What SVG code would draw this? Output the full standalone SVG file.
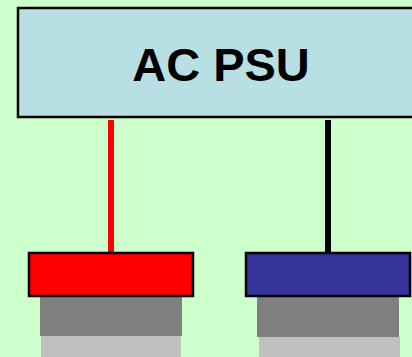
<svg xmlns="http://www.w3.org/2000/svg" width="412" height="357" viewBox="0 0 412 357">
  <style>
    .frame { stroke: #000; stroke-width: 2.5; }
    .base { fill: #808080; }
    .foot { fill: #c0c0c0; }
    .label { font-family: "Liberation Sans", Arial, sans-serif; font-weight: bold; font-size: 47px; fill: #000; }
  </style>
  <rect width="412" height="357" fill="#ccffcc"/>
  <g id="connectors">
    <line x1="111" y1="120" x2="111" y2="253" stroke="#ff0000" stroke-width="6"/>
    <line x1="328" y1="120" x2="328" y2="253" stroke="#000" stroke-width="6"/>
  </g>
  <g id="psu">
    <rect class="frame" x="18" y="8" width="400" height="109" fill="#b8e0e4"/>
    <text class="label" x="221" y="81" text-anchor="middle">AC PSU</text>
  </g>
  <g id="terminal-positive">
    <rect class="base" x="40" y="297" width="142" height="39"/>
    <rect class="foot" x="41" y="336" width="140" height="21"/>
    <rect class="frame" x="29" y="253" width="164" height="43" fill="#ff0000"/>
  </g>
  <g id="terminal-negative">
    <rect class="base" x="257" y="297" width="142" height="40"/>
    <rect class="foot" x="259" y="337" width="141" height="20"/>
    <rect class="frame" x="246" y="253" width="164" height="43" fill="#333399"/>
  </g>
</svg>
